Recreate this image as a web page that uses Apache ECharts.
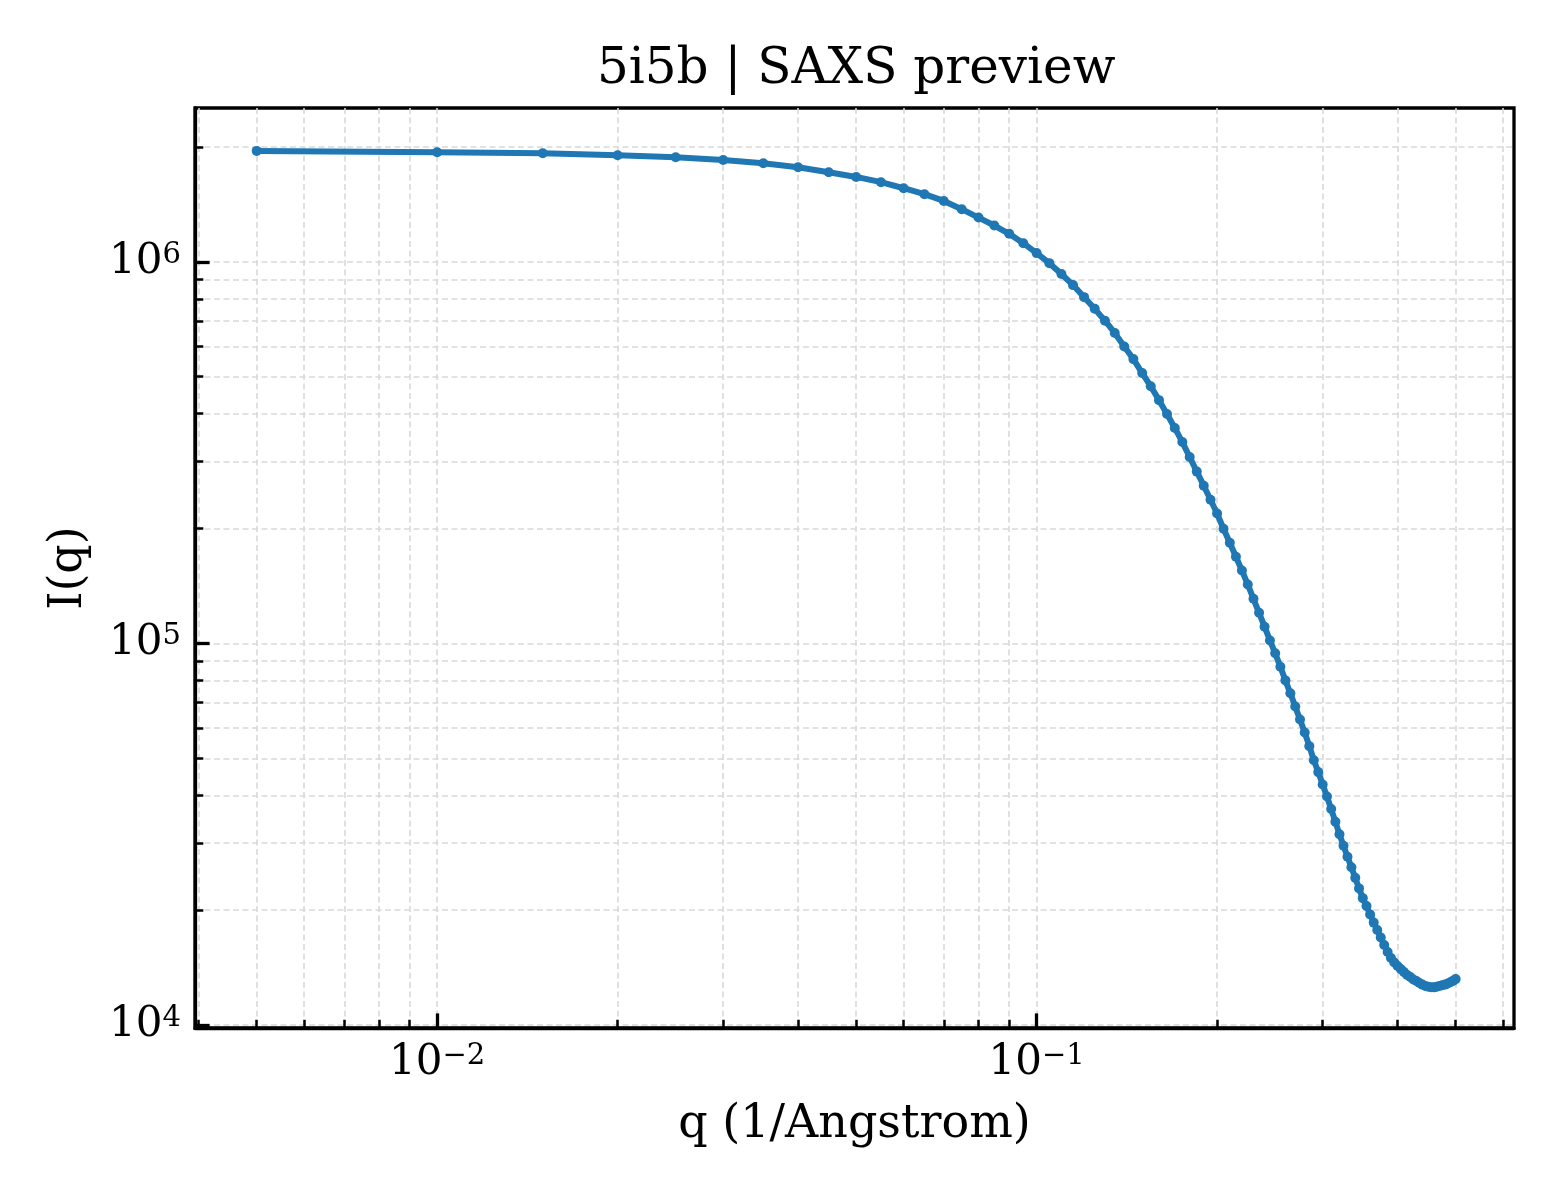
<!DOCTYPE html>
<html>
<head>
<meta charset="utf-8">
<script src="https://cdn.jsdelivr.net/npm/echarts@6/dist/echarts.min.js"></script>
<style>
html,body{margin:0;padding:0;background:#fff;}
#chart{width:1560px;height:1200px;}
</style>
</head>
<body>
<div id="chart"></div>
<script>
const titleText = '5i5b | SAXS preview';
const xAxisName = 'q (1/Angstrom)';
const yAxisName = 'I(q)';

const qValues = [
  0.005, 0.010, 0.015, 0.020, 0.025, 0.030, 0.035, 0.040, 0.045, 0.050,
  0.055, 0.060, 0.065, 0.070, 0.075, 0.080, 0.085, 0.090, 0.095, 0.100,
  0.105, 0.110, 0.115, 0.120, 0.125, 0.130, 0.135, 0.140, 0.145, 0.150,
  0.155, 0.160, 0.165, 0.170, 0.175, 0.180, 0.185, 0.190, 0.195, 0.200,
  0.205, 0.210, 0.215, 0.220, 0.225, 0.230, 0.235, 0.240, 0.245, 0.250,
  0.255, 0.260, 0.265, 0.270, 0.275, 0.280, 0.285, 0.290, 0.295, 0.300,
  0.305, 0.310, 0.315, 0.320, 0.325, 0.330, 0.335, 0.340, 0.345, 0.350,
  0.355, 0.360, 0.365, 0.370, 0.375, 0.380, 0.385, 0.390, 0.395, 0.400,
  0.405, 0.410, 0.415, 0.420, 0.425, 0.430, 0.435, 0.440, 0.445, 0.450,
  0.455, 0.460, 0.465, 0.470, 0.475, 0.480, 0.485, 0.490, 0.495, 0.500
];

const intensity = [
  1953000, 1938000, 1926000, 1903000, 1880000, 1849000, 1813000, 1770000, 1717000, 1669000,
  1617000, 1559000, 1504000, 1444000, 1374000, 1306000, 1245000, 1184000, 1119000, 1054000,
  992000, 929000, 869000, 808000, 753000, 701000, 651000, 600000, 556000, 511000,
  472000, 434000, 399000, 367000, 337000, 308000, 282000, 259000, 238000, 219000,
  199700, 183500, 168700, 155300, 142700, 130900, 120300, 110600, 101800, 94200,
  86900, 80000, 74000, 68300, 63200, 58400, 53800, 49400, 46000, 42700,
  39700, 36800, 34100, 31600, 29500, 27600, 25900, 24300, 22800, 21500,
  20500, 19470, 18550, 17740, 16950, 16200, 15530, 14980, 14580, 14270,
  14010, 13760, 13520, 13360, 13160, 13040, 12880, 12760, 12660, 12590,
  12560, 12550, 12590, 12650, 12710, 12760, 12840, 12940, 13050, 13190
];

const xMajorTicks = [0.01, 0.1];
const xMinorTicks = [0.004, 0.005, 0.006, 0.007, 0.008, 0.009,
                     0.02, 0.03, 0.04, 0.05, 0.06, 0.07, 0.08, 0.09,
                     0.2, 0.3, 0.4, 0.5, 0.6];
const yMajorTicks = [1e4, 1e5, 1e6];
const yMinorTicks = [2e4, 3e4, 4e4, 5e4, 6e4, 7e4, 8e4, 9e4,
                     2e5, 3e5, 4e5, 5e5, 6e5, 7e5, 8e5, 9e5, 2e6];

const xRange = [0.003945, 0.6256];
const yRange = [9820, 2530000];

const FONT = 'DejaVu Serif';
const gridLine = {show: true, lineStyle: {color: '#d9d9d9', width: 1.6, type: [6, 3.5]}};

function powLabel(v) {
  const e = Math.round(Math.log10(v));
  return '{b|10}{s|' + String(e).replace('-', '\u2212') + '}';
}
const labelRich = {
  b: {fontFamily: FONT, fontSize: 42, lineHeight: 42, color: '#000'},
  s: {fontFamily: FONT, fontSize: 29, lineHeight: 20, verticalAlign: 'top', color: '#000'}
};

const chart = echarts.init(document.getElementById('chart'), null, {renderer: 'canvas'});
chart.setOption({
  animation: false,
  backgroundColor: '#fff',
  title: {
    text: titleText,
    left: 597, top: 45, padding: 0,
    textStyle: {fontFamily: FONT, fontSize: 50, fontWeight: 'normal', color: '#000'}
  },
  grid: {
    left: 195, right: 46, top: 108, bottom: 172,
    show: true, borderColor: '#000', borderWidth: 3.3, backgroundColor: 'transparent'
  },
  xAxis: [
    {
      type: 'log', logBase: 10, min: xRange[0], max: xRange[1], position: 'bottom', offset: 0,
      name: xAxisName, nameLocation: 'middle', nameGap: 74,
      nameTextStyle: {fontFamily: FONT, fontSize: 46, color: '#000'},
      axisLine: {show: true, lineStyle: {color: '#000', width: 3.3}},
      axisTick: {show: true, inside: true, length: 14.6, customValues: xMajorTicks, lineStyle: {color: '#000', width: 3.3}},
      axisLabel: {show: true, margin: 14, customValues: xMajorTicks, formatter: powLabel, rich: labelRich},
      splitLine: gridLine, minorTick: {show: false}, minorSplitLine: {show: false}
    },
    {
      type: 'log', logBase: 10, min: xRange[0], max: xRange[1], position: 'bottom', offset: 0,
      axisLine: {show: false},
      axisTick: {show: true, inside: true, length: 8.3, customValues: xMinorTicks, lineStyle: {color: '#000', width: 2.5}},
      axisLabel: {show: false},
      splitLine: gridLine
    }
  ],
  yAxis: [
    {
      type: 'log', logBase: 10, min: yRange[0], max: yRange[1], position: 'left', offset: 0,
      name: yAxisName, nameLocation: 'middle', nameGap: 103, nameRotate: 90,
      nameTextStyle: {fontFamily: FONT, fontSize: 46, color: '#000'},
      axisLine: {show: true, lineStyle: {color: '#000', width: 3.3}},
      axisTick: {show: true, inside: true, length: 14.6, customValues: yMajorTicks, lineStyle: {color: '#000', width: 3.3}},
      axisLabel: {show: true, margin: 14, customValues: yMajorTicks, formatter: powLabel, rich: labelRich},
      splitLine: gridLine
    },
    {
      type: 'log', logBase: 10, min: yRange[0], max: yRange[1], position: 'left', offset: 0,
      axisLine: {show: false},
      axisTick: {show: true, inside: true, length: 8.3, customValues: yMinorTicks, lineStyle: {color: '#000', width: 2.5}},
      axisLabel: {show: false},
      splitLine: gridLine
    }
  ],
  series: [{
    type: 'line',
    xAxisIndex: 0, yAxisIndex: 0,
    data: qValues.map((q, i) => [q, intensity[i]]),
    symbol: 'circle', symbolSize: 10, showAllSymbol: true,
    lineStyle: {color: '#1f77b4', width: 6},
    itemStyle: {color: '#1f77b4'},
    z: 5
  }]
});
</script>
</body>
</html>
